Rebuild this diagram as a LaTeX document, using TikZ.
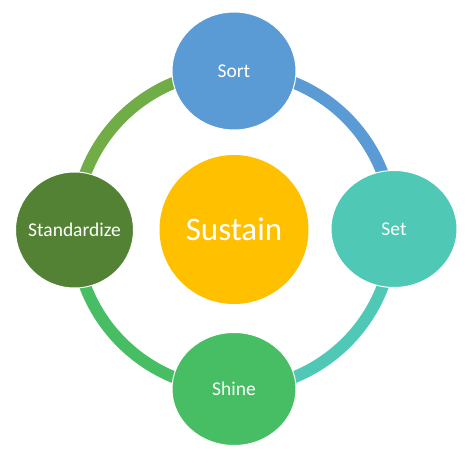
\documentclass[tikz,border=0pt]{standalone}
\usepackage{fontspec}
\setmainfont{Carlito}
\usetikzlibrary{shapes.geometric}
\definecolor{cblue}{HTML}{5B9BD5}
\definecolor{cteal}{HTML}{4FC9B5}
\definecolor{cgreen}{HTML}{47BE63}
\definecolor{cdark}{HTML}{548235}
\definecolor{clight}{HTML}{70AD47}
\definecolor{cgold}{HTML}{FFC000}
\newcommand{\zbox}[1]{\makebox[0pt]{#1}}
\tikzset{
  bubble/.style={ellipse, draw=white, line width=1pt, inner sep=0pt, text=white, font=\fontsize{19.5}{22}\selectfont},
  ringarc/.style={line width=12pt}
}
\begin{document}
\begin{tikzpicture}[x=1pt,y=1pt]
\useasboundingbox (0,0) rectangle (474,463);
\draw[ringarc, cblue] (234,392) arc[start angle=90, end angle=0, radius=159];
\draw[ringarc, cteal] (393,233) arc[start angle=0, end angle=-90, radius=159];
\draw[ringarc, cgreen] (234,74) arc[start angle=-90, end angle=-180, radius=159];
\draw[ringarc, clight] (75,233) arc[start angle=180, end angle=90, radius=159];
\node[bubble, fill=cblue, minimum width=124pt, minimum height=118pt] (sort) at (234,392) {\zbox{Sort}};
\node[bubble, fill=cteal, minimum width=126pt, minimum height=117pt] (set) at (394,234) {\zbox{Set}};
\node[bubble, fill=cgreen, minimum width=124pt, minimum height=113pt] (shine) at (234,74) {\zbox{Shine}};
\node[bubble, fill=cdark, minimum width=118pt, minimum height=116pt] (std) at (74.5,233) {\zbox{Standardize}};
\node[circle, fill=cgold, inner sep=0pt, minimum size=149pt, text=white, font=\fontsize{33}{36}\selectfont] (sus) at (234,233.5) {\zbox{Sustain}};
\end{tikzpicture}
\end{document}
